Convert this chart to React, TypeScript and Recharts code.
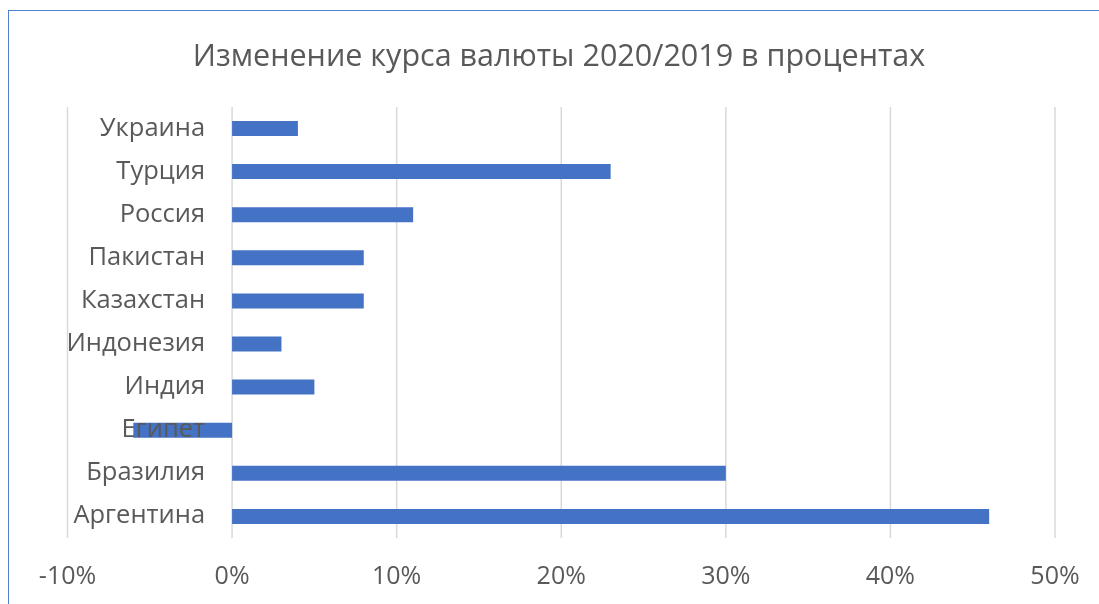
import React from "react";
import { BarChart, Bar, XAxis, YAxis, CartesianGrid, LabelList } from "recharts";

const categories = ["Аргентина", "Бразилия", "Египет", "Индия", "Индонезия", "Казахстан", "Пакистан", "Россия", "Турция", "Украина"];
const changePct = [46, 30, -6, 5, 3, 8, 8, 11, 23, 4];
const xTicks = [-10, 0, 10, 20, 30, 40, 50];
const title = "Изменение курса валюты 2020/2019 в процентах";

const data = categories.map((c, i) => ({ name: c, value: changePct[i] }));

const W = 1083;
const H = 588;
const YW = 1;
const M = { top: 99, right: 36, bottom: 8, left: 59.5 - YW };
const DOMAIN: [number, number] = [-10, 50];
const plotLeft = M.left + YW;
const plotW = W - plotLeft - M.right;
const zeroX = plotLeft + (plotW * (0 - DOMAIN[0])) / (DOMAIN[1] - DOMAIN[0]);

const FONT = "'Open Sans', sans-serif";
const TXT = "#595959";

const CatLabel = (props: any) => {
  const { y, height, value } = props;
  const cy = Number(y) + Number(height) / 2;
  return (
    <text x={zeroX - 27} y={cy} dy={7} textAnchor="end" fill={TXT} fontSize={25.5} fontFamily={FONT}>
      {value}
    </text>
  );
};

export default function App() {
  return (
    <div style={{ position: "relative", width: W, height: H, background: "#fff" }}>
      <div
        style={{
          position: "fixed",
          left: 8,
          top: 10,
          right: 0,
          bottom: 0,
          borderTop: "1.5px solid #4F80D1",
          borderLeft: "1.5px solid #4F80D1",
          boxSizing: "border-box",
          pointerEvents: "none",
        }}
      />
      <div
        style={{
          position: "absolute",
          left: 0,
          top: 25,
          width: 2 * (559 - 8),
          textAlign: "center",
          fontFamily: FONT,
          fontSize: 30.5,
          color: TXT,
          whiteSpace: "nowrap",
        }}
      >
        {title}
      </div>
      <div style={{ position: "absolute", left: 0, top: 0 }}>
        <BarChart width={W} height={H} data={data} layout="vertical" margin={M}>
          <CartesianGrid horizontal={false} stroke="#d9d9d9" strokeWidth={1.5} />
          <XAxis
            type="number"
            domain={DOMAIN}
            ticks={xTicks}
            tickFormatter={(v: number) => `${v}%`}
            axisLine={false}
            tickLine={false}
            height={50}
            tickMargin={22}
            interval={0}
            tick={{ fill: TXT, fontSize: 25, fontFamily: FONT }}
          />
          <YAxis
            type="category"
            dataKey="name"
            reversed
            width={YW}
            axisLine={false}
            tickLine={false}
            interval={0}
            tick={false}
          />
          <Bar dataKey="value" fill="#4472C4" barSize={15} isAnimationActive={false}>
            <LabelList dataKey="name" content={<CatLabel />} />
          </Bar>
        </BarChart>
      </div>
    </div>
  );
}
